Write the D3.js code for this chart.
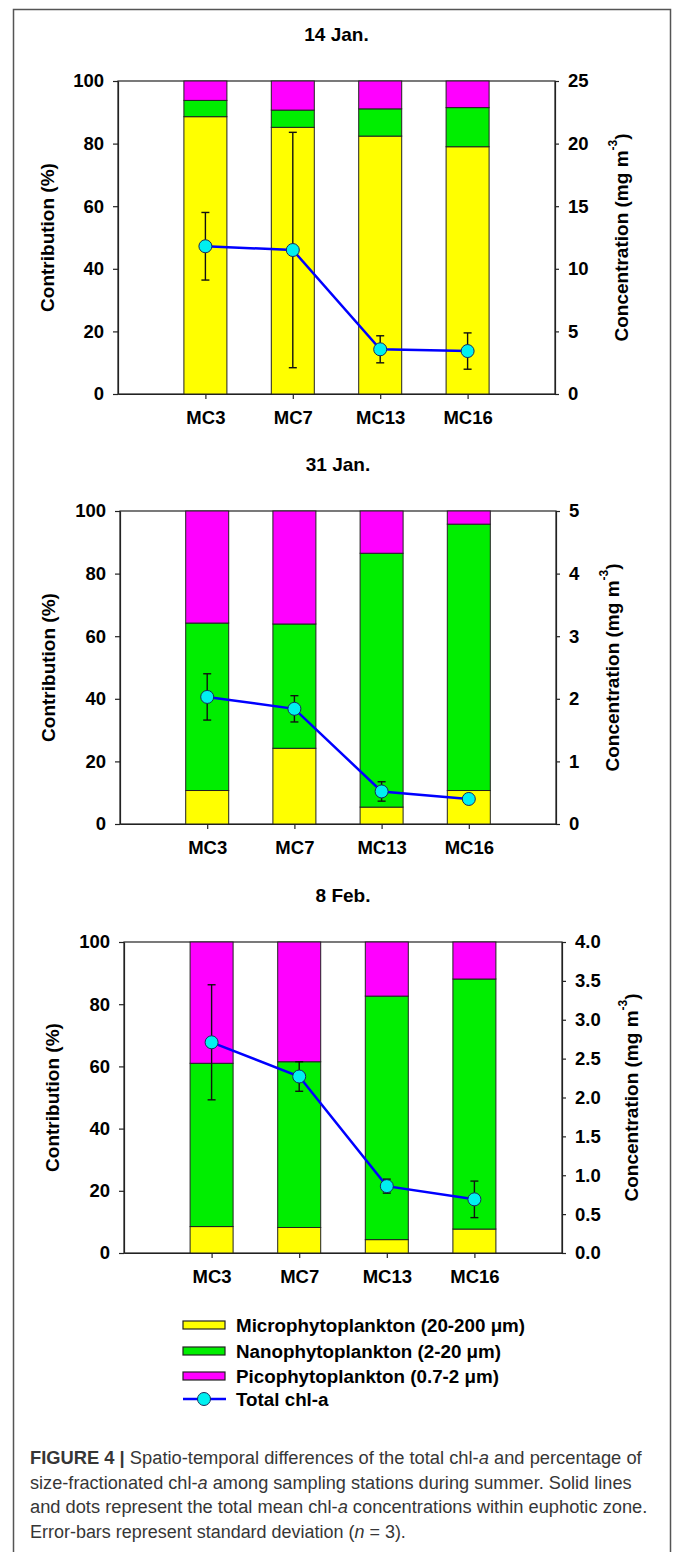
<!DOCTYPE html>
<html lang="en">
<head>
<meta charset="UTF-8"/>
<title>Figure 4</title>
<style>
    body { margin: 0; background: #fff; }
    svg { display: block; }
    text { font-family: "Liberation Sans", Arial, sans-serif; fill: #000; }
    .axis text { font-size: 18.5px; font-weight: bold; }
    .axis path, .axis line { stroke: #222; stroke-width: 1.2; }
    .lab { font-size: 19px; font-weight: bold; }
    .legend text { font-size: 18.8px; font-weight: bold; }
    .caption text { font-size: 19px; fill: #363636; }
</style>
</head>
<body>
<svg width="675" height="1552"></svg>
<script src="https://cdn.jsdelivr.net/npm/d3@7"></script>
<script>
    const stations = ["MC3", "MC7", "MC13", "MC16"];
    const dates = ["14 Jan.", "31 Jan.", "8 Feb."];
    const fractions = ["micro", "nano", "pico"];
    const fractionNames = ["Microphytoplankton (20-200 \u03bcm)", "Nanophytoplankton (2-20 \u03bcm)", "Picophytoplankton (0.7-2 \u03bcm)"];
    const fractionColors = ["#ffff00", "#00ee00", "#ff00ff"];

    // % contribution, one row per date
    const microPct = [[88.6, 85.2, 82.4, 79.0], [10.7, 24.2, 5.4, 10.7], [8.5, 8.2, 4.3, 7.7]];
    const nanoPct = [[5.2, 5.5, 8.7, 12.5], [53.5, 39.7, 81.1, 85.1], [52.5, 53.3, 78.3, 80.4]];
    const picoPct = [[6.2, 9.3, 8.9, 8.5], [35.8, 36.1, 13.5, 4.2], [39.0, 38.5, 17.4, 11.9]];

    // total chl-a (mg m-3) and sd
    const chlMean = [[11.8, 11.5, 3.57, 3.43], [2.03, 1.84, 0.52, 0.40], [2.71, 2.27, 0.86, 0.69]];
    const chlSd = [[2.7, 9.4, 1.08, 1.45], [0.37, 0.21, 0.155, 0.05], [0.74, 0.19, 0.09, 0.235]];

    const pctTicks = [0, 20, 40, 60, 80, 100];
    const concMax = [25, 5, 4];
    const concStep = [5, 1, 0.5];
    const concFormat = ["d", "d", ".1f"];

    const captionLines = [
        [["FIGURE 4 | ", "b"], ["Spatio-temporal differences of the total chl-", ""], ["a", "i"], [" and percentage of", ""]],
        [["size-fractionated chl-", ""], ["a", "i"], [" among sampling stations during summer. Solid lines", ""]],
        [["and dots represent the total mean chl-", ""], ["a", "i"], [" concentrations within euphotic zone.", ""]],
        [["Error-bars represent standard deviation (", ""], ["n", "i"], [" = 3).", ""]]
    ];

    // layout (page pixels)
    const panels = [
        {left: 118, right: 555, top: 81, bottom: 394, labL: 47, labR: 66},
        {left: 120, right: 556, top: 511, bottom: 824, labL: 48, labR: 56},
        {left: 124, right: 562, top: 942, bottom: 1253, labL: 52, labR: 69}
    ];
    const barW = 43;
    const legendX = 183, legendY = [1325, 1351, 1376, 1399];
    const captionX = 30, captionY = [1464, 1488.5, 1513, 1537.5], captionW = [612, 602, 618, 376];

    const svg = d3.select("svg");

    svg.append("rect")
        .attr("x", 13.5).attr("y", 9.5)
        .attr("width", 657).attr("height", 1600)
        .attr("fill", "none").attr("stroke", "#555").attr("stroke-width", 1.5);

    panels.forEach((p, i) => {
        const g = svg.append("g");
        const x = d3.scalePoint().domain(stations).range([p.left, p.right]).padding(1);
        const y = d3.scaleLinear().domain([0, 100]).range([p.bottom, p.top]);
        const y2 = d3.scaleLinear().domain([0, concMax[i]]).range([p.bottom, p.top]);

        const rows = stations.map((s, j) => ({
            station: s, micro: microPct[i][j], nano: nanoPct[i][j], pico: picoPct[i][j]
        }));
        const series = d3.stack().keys(fractions)(rows);

        g.append("rect")
            .attr("x", p.left).attr("y", p.top)
            .attr("width", p.right - p.left).attr("height", p.bottom - p.top)
            .attr("fill", "#fff").attr("stroke", "#222").attr("stroke-width", 1.2);

        g.append("g")
            .selectAll("g")
            .data(series)
            .join("g")
            .attr("fill", (d, k) => fractionColors[k])
            .selectAll("rect")
            .data(d => d)
            .join("rect")
            .attr("x", d => x(d.data.station) - barW / 2)
            .attr("width", barW)
            .attr("y", d => y(d[1]))
            .attr("height", d => y(d[0]) - y(d[1]))
            .attr("stroke", "#222")
            .attr("stroke-width", 1);

        g.append("g").attr("class", "axis")
            .attr("transform", `translate(${p.left},0)`)
            .call(d3.axisLeft(y).tickValues(pctTicks).tickSize(5).tickSizeOuter(0).tickPadding(9))
            .attr("font-size", null).attr("font-family", null);

        g.append("g").attr("class", "axis")
            .attr("transform", `translate(${p.right},0)`)
            .call(d3.axisRight(y2)
                .tickValues(d3.range(0, concMax[i] + concStep[i] / 2, concStep[i]))
                .tickFormat(d3.format(concFormat[i]))
                .tickSize(4).tickSizeOuter(0).tickPadding(9))
            .attr("font-size", null).attr("font-family", null);

        g.append("g").attr("class", "axis")
            .attr("transform", `translate(0,${p.bottom})`)
            .call(d3.axisBottom(x).tickSize(5).tickSizeOuter(0).tickPadding(12))
            .attr("font-size", null).attr("font-family", null);

        g.append("text").attr("class", "lab")
            .attr("x", (p.left + p.right) / 2).attr("y", p.top - 40)
            .attr("text-anchor", "middle")
            .text(dates[i]);

        g.append("text").attr("class", "lab")
            .attr("transform", `translate(${p.labL},${(p.top + p.bottom) / 2}) rotate(-90)`)
            .attr("text-anchor", "middle").attr("dy", "0.35em")
            .text("Contribution (%)");

        const rl = g.append("text").attr("class", "lab")
            .attr("transform", `translate(${p.right + p.labR},${(p.top + p.bottom) / 2}) rotate(-90)`)
            .attr("text-anchor", "middle").attr("dy", "0.35em");
        rl.append("tspan").text("Concentration (mg m");
        rl.append("tspan").attr("font-size", 12).attr("dy", "-0.9em").text("-3");
        rl.append("tspan").attr("dy", "0.6em").text(")");

        const pts = stations.map((s, j) => ({station: s, m: chlMean[i][j], sd: chlSd[i][j]}));

        const err = g.append("g").attr("stroke", "#111").attr("stroke-width", 1.4);
        err.selectAll("line.v").data(pts).join("line")
            .attr("x1", d => x(d.station)).attr("x2", d => x(d.station))
            .attr("y1", d => y2(d.m - d.sd)).attr("y2", d => y2(d.m + d.sd));
        err.selectAll("line.t").data(pts).join("line").attr("class", "t")
            .attr("x1", d => x(d.station) - 4).attr("x2", d => x(d.station) + 4)
            .attr("y1", d => y2(d.m + d.sd)).attr("y2", d => y2(d.m + d.sd));
        err.selectAll("line.b").data(pts).join("line").attr("class", "b")
            .attr("x1", d => x(d.station) - 4).attr("x2", d => x(d.station) + 4)
            .attr("y1", d => y2(d.m - d.sd)).attr("y2", d => y2(d.m - d.sd));

        g.append("path")
            .datum(pts)
            .attr("fill", "none").attr("stroke", "#0000ff").attr("stroke-width", 2.5)
            .attr("d", d3.line().x(d => x(d.station)).y(d => y2(d.m)));

        g.selectAll("circle").data(pts).join("circle")
            .attr("cx", d => x(d.station)).attr("cy", d => y2(d.m)).attr("r", 6.5)
            .attr("fill", "#00f0f0").attr("stroke", "#1a2a5a").attr("stroke-width", 1);
    });

    const legend = svg.append("g").attr("class", "legend");
    fractionNames.forEach((name, k) => {
        legend.append("rect")
            .attr("x", legendX).attr("y", legendY[k] - 4)
            .attr("width", 42).attr("height", 8)
            .attr("fill", fractionColors[k]).attr("stroke", "#222").attr("stroke-width", 1.2);
        legend.append("text")
            .attr("x", legendX + 53).attr("y", legendY[k]).attr("dy", "0.35em")
            .text(name);
    });
    legend.append("line")
        .attr("x1", legendX).attr("x2", legendX + 43)
        .attr("y1", legendY[3]).attr("y2", legendY[3])
        .attr("stroke", "#0000ff").attr("stroke-width", 2.5);
    legend.append("circle")
        .attr("cx", legendX + 21).attr("cy", legendY[3]).attr("r", 6.5)
        .attr("fill", "#00f0f0").attr("stroke", "#1a2a5a");
    legend.append("text")
        .attr("x", legendX + 53).attr("y", legendY[3]).attr("dy", "0.35em")
        .text("Total chl-a");

    const caption = svg.append("g").attr("class", "caption");
    captionLines.forEach((segs, k) => {
        const t = caption.append("text").attr("x", 0).attr("y", 0);
        segs.forEach(([s, st]) => {
            t.append("tspan")
                .attr("font-weight", st === "b" ? "bold" : null)
                .attr("font-style", st === "i" ? "italic" : null)
                .text(s);
        });
        const w = t.node().getComputedTextLength();
        t.attr("transform", `translate(${captionX},${captionY[k]}) scale(${captionW[k] / w},1)`);
    });
</script>
</body>
</html>
